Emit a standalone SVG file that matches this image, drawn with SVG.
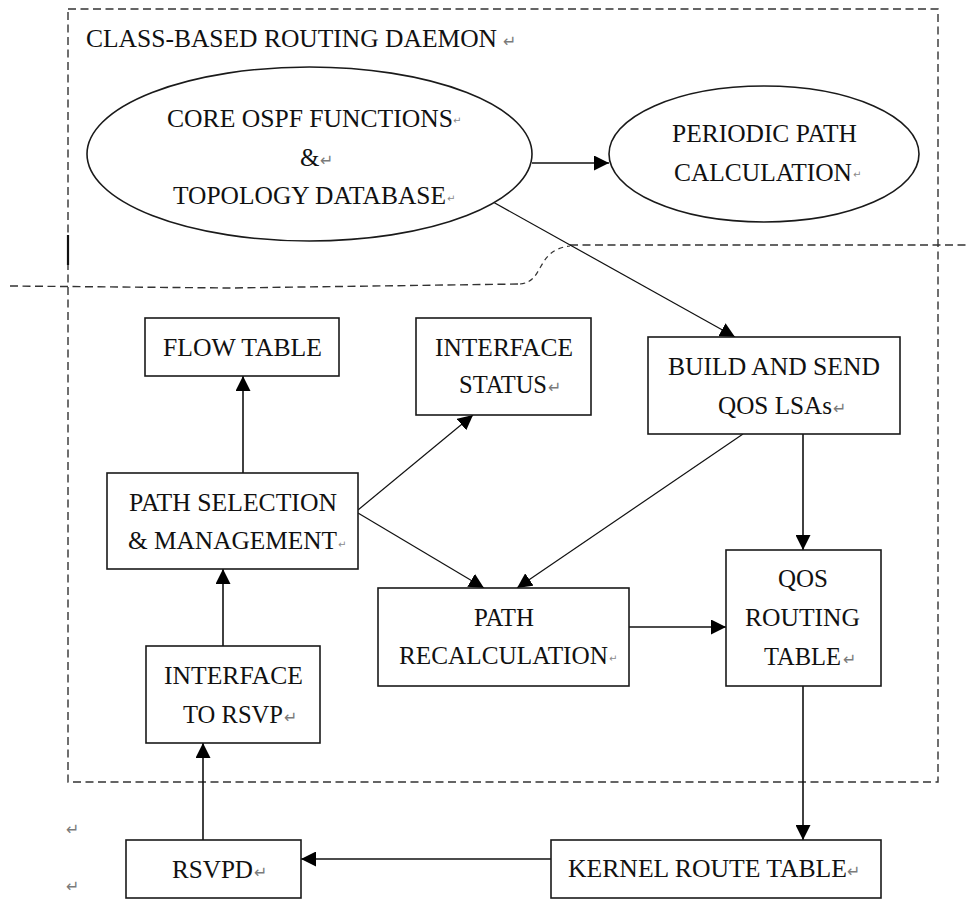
<svg xmlns="http://www.w3.org/2000/svg" width="969" height="899" viewBox="0 0 969 899">
  <defs>
    <style>
      .bg { fill: #ffffff; }
      .node { fill: #ffffff; stroke: #1a1a1a; stroke-width: 1.6; }
      .label { font-family: "Liberation Serif", "DejaVu Serif", serif; font-size: 25px; fill: #111111; }
      .mark { font-family: "DejaVu Sans", sans-serif; font-size: 16px; fill: #7a7a7a; }
      .mark-s { font-family: "DejaVu Sans", sans-serif; font-size: 10px; fill: #8a8a8a; }
      .edge { fill: none; stroke: #111111; stroke-width: 1.6; }
      .edge-thin { fill: none; stroke: #111111; stroke-width: 1.2; }
      .frame { fill: none; stroke: #333333; stroke-width: 1.4; stroke-dasharray: 8 4.5; }
      .frame-fine { fill: none; stroke: #333333; stroke-width: 1.2; stroke-dasharray: 5 4; }
    </style>
    <marker id="arrow" viewBox="0 0 15 15" refX="15" refY="7.5" markerWidth="15" markerHeight="15" markerUnits="userSpaceOnUse" orient="auto">
      <path d="M0,0 L15,7.5 L0,15 z" fill="#000000"/>
    </marker>
  </defs>

  <rect class="bg" x="0" y="0" width="969" height="899"/>

  <!-- daemon boundary and the split line across it -->
  <g id="daemon-frame">
    <rect class="frame" x="68" y="9" width="870" height="773"/>
    <path class="frame" d="M10,286 L230,288 L520,284"/>
    <path class="frame-fine" d="M520,284 C545,282 535,250 570,246"/>
    <path class="frame" d="M570,245 L969,245"/>
    <line x1="68" y1="235" x2="68" y2="265" stroke="#111111" stroke-width="2.2"/>
    <text class="label" x="86" y="47" textLength="411" lengthAdjust="spacingAndGlyphs">CLASS-BASED ROUTING DAEMON</text>
    <text class="mark" x="503" y="47">↵</text>
  </g>

  <!-- connectors -->
  <g id="connectors">
    <line class="edge" x1="532" y1="163" x2="609" y2="163" marker-end="url(#arrow)"/>
    <line class="edge-thin" x1="493" y1="202" x2="735" y2="337" marker-end="url(#arrow)"/>
    <line class="edge" x1="803" y1="434" x2="803" y2="550" marker-end="url(#arrow)"/>
    <line class="edge-thin" x1="743" y1="434" x2="517" y2="588" marker-end="url(#arrow)"/>
    <line class="edge" x1="243" y1="473" x2="243" y2="376" marker-end="url(#arrow)"/>
    <line class="edge-thin" x1="358" y1="510" x2="473" y2="415" marker-end="url(#arrow)"/>
    <line class="edge-thin" x1="358" y1="513" x2="484" y2="588" marker-end="url(#arrow)"/>
    <line class="edge" x1="629" y1="627" x2="726" y2="627" marker-end="url(#arrow)"/>
    <line class="edge" x1="223" y1="646" x2="223" y2="569" marker-end="url(#arrow)"/>
    <line class="edge" x1="203" y1="840" x2="203" y2="743" marker-end="url(#arrow)"/>
    <line class="edge" x1="803" y1="686" x2="803" y2="840" marker-end="url(#arrow)"/>
    <line class="edge" x1="551" y1="859" x2="301" y2="859" marker-end="url(#arrow)"/>
  </g>

  <g id="core-ospf">
    <ellipse class="node" cx="309.5" cy="154" rx="222.5" ry="87"/>
    <text class="label" x="167" y="127" textLength="286" lengthAdjust="spacingAndGlyphs">CORE OSPF FUNCTIONS</text>
    <text class="mark-s" x="453" y="124">↵</text>
    <text class="label" x="300" y="166">&amp;</text>
    <text class="mark" x="320" y="166">↵</text>
    <text class="label" x="173" y="204" textLength="273" lengthAdjust="spacingAndGlyphs">TOPOLOGY DATABASE</text>
    <text class="mark-s" x="447" y="202">↵</text>
  </g>

  <g id="periodic-path">
    <ellipse class="node" cx="764" cy="154" rx="155" ry="68"/>
    <text class="label" x="672" y="142" textLength="185" lengthAdjust="spacingAndGlyphs">PERIODIC PATH</text>
    <text class="label" x="674" y="181" textLength="178" lengthAdjust="spacingAndGlyphs">CALCULATION</text>
    <text class="mark-s" x="853" y="178">↵</text>
  </g>

  <g id="flow-table">
    <rect class="node" x="145" y="318" width="194" height="58"/>
    <text class="label" x="163" y="356" textLength="159" lengthAdjust="spacingAndGlyphs">FLOW TABLE</text>
  </g>

  <g id="interface-status">
    <rect class="node" x="416" y="318" width="175" height="97"/>
    <text class="label" x="435" y="356" textLength="138" lengthAdjust="spacingAndGlyphs">INTERFACE</text>
    <text class="label" x="459" y="393" textLength="88" lengthAdjust="spacingAndGlyphs">STATUS</text>
    <text class="mark" x="548" y="393">↵</text>
  </g>

  <g id="build-send">
    <rect class="node" x="648" y="337" width="252" height="97"/>
    <text class="label" x="668" y="375" textLength="212" lengthAdjust="spacingAndGlyphs">BUILD AND SEND</text>
    <text class="label" x="718" y="414" textLength="114" lengthAdjust="spacingAndGlyphs">QOS LSAs</text>
    <text class="mark" x="833" y="414">↵</text>
  </g>

  <g id="path-selection">
    <rect class="node" x="107" y="473" width="251" height="96"/>
    <text class="label" x="129" y="511" textLength="208" lengthAdjust="spacingAndGlyphs">PATH SELECTION</text>
    <text class="label" x="128" y="549" textLength="209" lengthAdjust="spacingAndGlyphs">&amp; MANAGEMENT</text>
    <text class="mark-s" x="338" y="548">↵</text>
  </g>

  <g id="path-recalculation">
    <rect class="node" x="378" y="588" width="251" height="98"/>
    <text class="label" x="474" y="626" textLength="60" lengthAdjust="spacingAndGlyphs">PATH</text>
    <text class="label" x="399" y="664" textLength="209" lengthAdjust="spacingAndGlyphs">RECALCULATION</text>
    <text class="mark-s" x="609" y="662">↵</text>
  </g>

  <g id="qos-routing-table">
    <rect class="node" x="726" y="550" width="155" height="136"/>
    <text class="label" x="778" y="587" textLength="50" lengthAdjust="spacingAndGlyphs">QOS</text>
    <text class="label" x="745" y="626" textLength="115" lengthAdjust="spacingAndGlyphs">ROUTING</text>
    <text class="label" x="764" y="665" textLength="77" lengthAdjust="spacingAndGlyphs">TABLE</text>
    <text class="mark" x="843" y="665">↵</text>
  </g>

  <g id="interface-rsvp">
    <rect class="node" x="146" y="646" width="174" height="97"/>
    <text class="label" x="164" y="684" textLength="139" lengthAdjust="spacingAndGlyphs">INTERFACE</text>
    <text class="label" x="183" y="723" textLength="100" lengthAdjust="spacingAndGlyphs">TO RSVP</text>
    <text class="mark" x="284" y="723">↵</text>
  </g>

  <g id="rsvpd">
    <rect class="node" x="126" y="840" width="175" height="58"/>
    <text class="label" x="172" y="878" textLength="81" lengthAdjust="spacingAndGlyphs">RSVPD</text>
    <text class="mark" x="254" y="878">↵</text>
  </g>

  <g id="kernel-route-table">
    <rect class="node" x="551" y="840" width="330" height="58"/>
    <text class="label" x="568" y="877" textLength="279" lengthAdjust="spacingAndGlyphs">KERNEL ROUTE TABLE</text>
    <text class="mark" x="847" y="877">↵</text>
  </g>

  <!-- empty paragraph marks in the left margin -->
  <g id="margin-marks">
    <text class="mark" x="66" y="835">↵</text>
    <text class="mark" x="66" y="892">↵</text>
  </g>
</svg>
